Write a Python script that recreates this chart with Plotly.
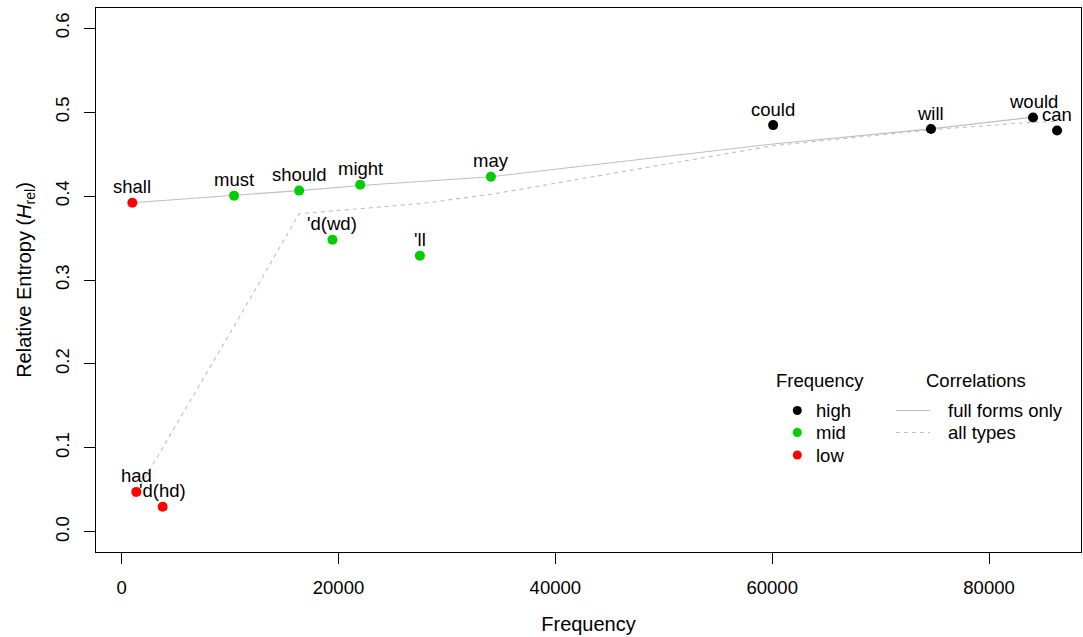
import plotly.graph_objects as go

# ---- data ----
words = ["shall", "must", "should", "might", "may", "'d(wd)", "'ll",
         "could", "will", "would", "can", "had", "'d(hd)"]
freq = [988, 10374, 16374, 22004, 34059, 19448, 27505,
        60087, 74643, 84058, 86273, 1357, 3784]
entropy = [0.392, 0.4005, 0.4065, 0.4135, 0.423, 0.348, 0.329,
           0.4845, 0.4798, 0.4936, 0.4781, 0.0476, 0.0298]
band = ["low", "mid", "mid", "mid", "mid", "mid", "mid",
        "high", "high", "high", "high", "low", "low"]

# smoother through full forms only
full_x = [988, 10374, 16374, 22004, 34059, 60087, 74643, 84058]
full_y = [0.392, 0.4005, 0.4065, 0.4125, 0.423, 0.462, 0.480, 0.494]
# smoother through all types
all_x = [988, 1357, 3784, 10374, 16374, 19448, 22004, 27505, 34059, 60087, 74643, 84058, 86273]
all_y = [0.0395, 0.047, 0.100, 0.245, 0.379, 0.382, 0.385, 0.391, 0.402, 0.460, 0.479, 0.488, 0.489]

band_colors = {"high": "#000000", "mid": "#00CD00", "low": "#FF0000"}
x_ticks = [0, 20000, 40000, 60000, 80000]
y_ticks = [0.0, 0.1, 0.2, 0.3, 0.4, 0.5, 0.6]

FONT = "Liberation Sans, Arial, Helvetica, sans-serif"
GRAY = "#BEBEBE"

fig = go.Figure()
fig.add_trace(go.Scatter(x=full_x, y=full_y, mode="lines",
                         line=dict(color=GRAY, width=1.1), showlegend=False, hoverinfo="skip"))
fig.add_trace(go.Scatter(x=all_x, y=all_y, mode="lines",
                         line=dict(color=GRAY, width=1.1, dash="4px,4px"), showlegend=False, hoverinfo="skip"))
fig.add_trace(go.Scatter(x=freq, y=entropy, mode="markers",
                         marker=dict(size=10, color=[band_colors[b] for b in band], line=dict(width=0)),
                         text=words, showlegend=False))

annotations = []
for w, fx, ey in zip(words, freq, entropy):
    annotations.append(dict(x=fx, y=ey, xref="x", yref="y", text=w, showarrow=False,
                            yanchor="bottom", xanchor="center", yshift=3.5,
                            font=dict(family=FONT, size=18.5, color="black")))

# ---- manual legend (paper coordinates from pixel layout) ----
L, R, T, B = 96.0, 1081.0, 8.0, 552.0
def px(x):
    return (x - L) / (R - L)
def py(y):
    return (B - y) / (B - T)

legend_titles = [("Frequency", 819.7, 380.7), ("Correlations", 975.5, 380.7)]
for t, x, y in legend_titles:
    annotations.append(dict(x=px(x), y=py(y), xref="paper", yref="paper", text=t, showarrow=False,
                            xanchor="center", yanchor="middle", font=dict(family=FONT, size=18.5, color="black")))

shapes = []
leg_rows = [410.5, 432.5, 455.0]
for lab, yy in zip(["high", "mid", "low"], leg_rows):
    shapes.append(dict(type="circle", xref="paper", yref="paper", xsizemode="pixel", ysizemode="pixel",
                       xanchor=px(797.3), yanchor=py(yy), x0=-4.5, x1=4.5, y0=-4.5, y1=4.5,
                       fillcolor=band_colors[lab], line=dict(width=0)))
    annotations.append(dict(x=px(814), y=py(yy), xref="paper", yref="paper", text=lab, showarrow=False,
                            xanchor="left", yanchor="middle", font=dict(family=FONT, size=18.5, color="black")))

for lab, yy, dash in [("full forms only", 410.5, "solid"), ("all types", 432.5, "4px,4px")]:
    shapes.append(dict(type="line", xref="paper", yref="paper", x0=px(896), x1=px(930), y0=py(yy), y1=py(yy),
                       line=dict(color=GRAY, width=1.1, dash=dash)))
    annotations.append(dict(x=px(946), y=py(yy), xref="paper", yref="paper", text=lab, showarrow=False,
                            xanchor="left", yanchor="middle", font=dict(family=FONT, size=18.5, color="black")))

fig.update_layout(
    width=1083, height=637,
    margin=dict(l=96, r=2, t=8, b=85, autoexpand=False),
    paper_bgcolor="white", plot_bgcolor="white",
    font=dict(family=FONT, size=18.5, color="black"),
    annotations=annotations, shapes=shapes,
    showlegend=False,
)
fig.update_xaxes(range=[-2363, 88480], tickvals=x_ticks, tickformat="d", automargin=False,
                 showgrid=False, zeroline=False, showline=True, mirror=True, linecolor="black", linewidth=1.2,
                 ticks="outside", ticklen=11, tickwidth=1, tickcolor="black", ticklabelstandoff=8,
                 tickfont=dict(family=FONT, size=18.5),
                 title=dict(text="Frequency", font=dict(family=FONT, size=20), standoff=19))
fig.update_yaxes(range=[-0.024, 0.624], tickvals=y_ticks, tickformat=".1f", tickangle=-90, automargin=False,
                 showgrid=False, zeroline=False, showline=True, mirror=True, linecolor="black", linewidth=1.2,
                 ticks="outside", ticklen=11, tickwidth=1, tickcolor="black", ticklabelstandoff=8,
                 tickfont=dict(family=FONT, size=18.5),
                 title=dict(text="Relative Entropy (<i>H</i><sub>rel</sub>)", font=dict(family=FONT, size=20), standoff=14))

fig.write_html("out.html", config={"displayModeBar": False},
               post_script="document.body.style.margin='0';document.body.style.overflow='hidden';")
